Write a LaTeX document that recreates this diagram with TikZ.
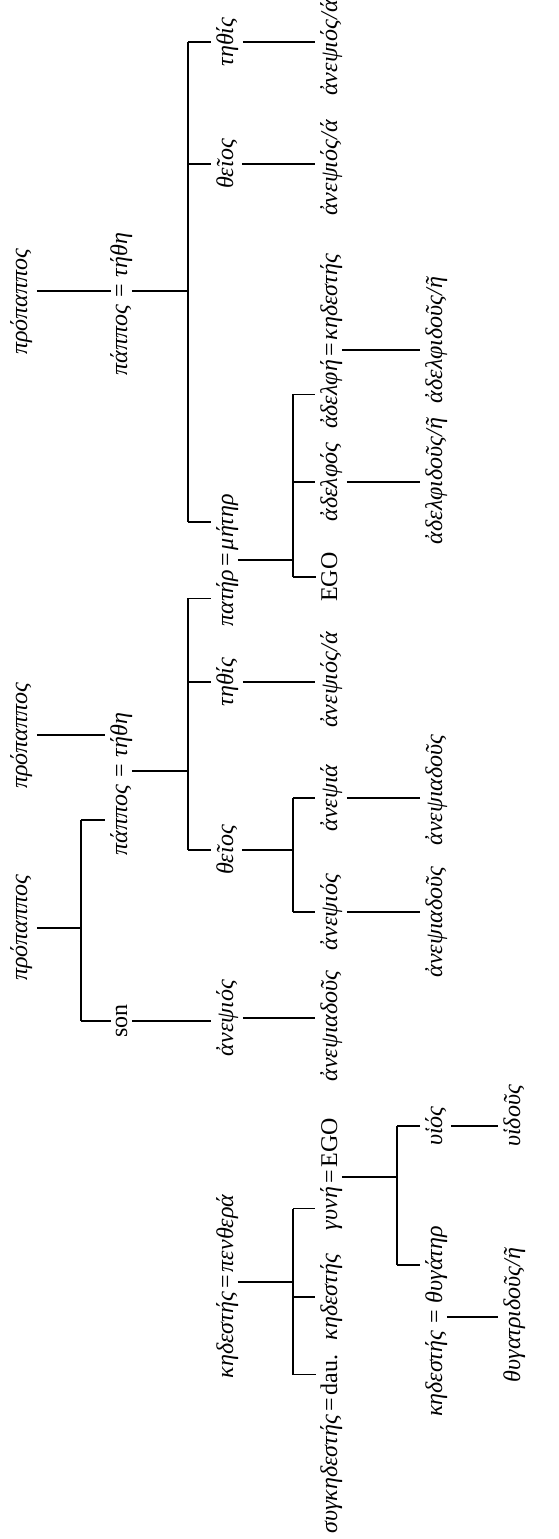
\documentclass[tikz,border=0pt]{standalone}
\usepackage{fontspec}
\setmainfont{Liberation Serif}
\usepackage{tikz}
\usetikzlibrary{positioning}

\begin{document}
\begin{tikzpicture}[
    x=0.5pt, y=-0.5pt,
    every node/.style={font=\fontsize{12}{14}\selectfont\itshape},
    kin/.style={rotate=90, anchor=base, inner xsep=0.6pt, inner ysep=2.2pt},
    roman/.style={kin, font=\fontsize{12}{14}\selectfont\upshape},
    eq/.style={
        rotate=90, anchor=base, inner xsep=#1, inner ysep=2.2pt,
        font=\fontsize{12}{14}\selectfont\upshape
    },
    eq/.default=0.6pt,
    tie/.style={line width=0.7pt, draw=black}
]
\useasboundingbox (0,0) rectangle (558,1539);

% Generation 0
\node[kin] (ppA) at (27,302) {πρόπαππος};
\node[kin] (ppB) at (27,736) {πρόπαππος};
\node[kin] (ppC) at (27,928) {πρόπαππος};

% Generation 1
\node[eq=2.5pt] (eqA) at (127,291) {=};
\node[kin, anchor=base east] (pappA) at (eqA.base west) {πάππος};
\node[kin, anchor=base west] (tetheA) at (eqA.base east) {τήθη};
\node[eq=2.5pt] (eqB) at (127,771) {=};
\node[kin, anchor=base east] (pappB) at (eqB.base west) {πάππος};
\node[kin, anchor=base west] (tetheB) at (eqB.base east) {τήθη};
\node[roman] (son) at (127,1021) {son};

% Generation 2
\node[kin] (tethisA) at (233,42) {τηθίς};
\node[kin] (theiosA) at (233,164) {θεῖος};
\node[eq] (eqM) at (233,560) {=};
\node[kin, anchor=base east] (pater) at (eqM.base west) {πατήρ};
\node[kin, anchor=base west] (meter) at (eqM.base east) {μήτηρ};
\node[kin] (tethisB) at (233,682) {τηθίς};
\node[kin] (theiosB) at (233,850) {θεῖος};
\node[kin] (anepsC) at (233,1018) {ἀνεψιός};
\node[eq] (eqP) at (233,1282) {=};
\node[kin, anchor=base east] (kedP) at (eqP.base west) {κηδεστής};
\node[kin, anchor=base west] (penth) at (eqP.base east) {πενθερά};

% Generation 3
\node[kin] (anAA) at (337,48) {ἀνεψιός/ά};
\node[kin] (anAB) at (337,168) {ἀνεψιός/ά};
\node[eq] (eqS) at (337,350) {=};
\node[kin, anchor=base east] (adelphe) at (eqS.base west) {ἀδελφή};
\node[kin, anchor=base west] (kedS) at (eqS.base east) {κηδεστής};
\node[kin] (adelphos) at (337,482) {ἀδελφός};
\node[roman] (egoA) at (337,577) {EGO};
\node[kin] (anAC) at (337,680) {ἀνεψιός/ά};
\node[kin] (anepsia) at (337,798) {ἀνεψιά};
\node[kin] (anepsB) at (337,912) {ἀνεψιός};
\node[kin] (anadC) at (337,1026) {ἀνεψιαδοῦς};
\node[eq] (eqE) at (337,1177) {=};
\node[kin, anchor=base east] (gyne) at (eqE.base west) {γυνή};
\node[roman, anchor=base west] (egoB) at (eqE.base east) {EGO};
\node[kin] (kedW) at (337,1297) {κηδεστής};
\node[eq] (eqD) at (337,1405) {=};
\node[kin, anchor=base east] (synk) at (eqD.base west) {συγκηδεστής};
\node[roman, anchor=base west] (dau) at (eqD.base east) {dau.};

% Generation 4
\node[kin] (adidA) at (442,340) {ἀδελφιδοῦς/ῆ};
\node[kin] (adidB) at (442,481) {ἀδελφιδοῦς/ῆ};
\node[kin] (anadA) at (442,790) {ἀνεψιαδοῦς};
\node[kin] (anadB) at (442,922) {ἀνεψιαδοῦς};
\node[kin] (hyios) at (442,1126) {υἱός};
\node[eq=2.5pt] (eqT) at (442,1317) {=};
\node[kin, anchor=base east] (kedT) at (eqT.base west) {κηδεστής};
\node[kin, anchor=base west] (thyg) at (eqT.base east) {θυγάτηρ};

% Generation 5
\node[kin] (hyidous) at (520,1116) {υἱδοῦς};
\node[kin] (thygid) at (520,1315) {θυγατριδοῦς/ῆ};

% Sibling bars
\coordinate (jSon) at (81,0);
\coordinate (jMat) at (188,0);
\coordinate (jPat) at (188,0);
\coordinate (jSib) at (293,0);
\coordinate (jCou) at (293,0);
\coordinate (jLaw) at (293,0);
\coordinate (jKid) at (397,0);

% Mother's side
\draw[tie] (ppA.south |- eqA) -- (eqA.north);
\draw[tie] (eqA.south) -- (eqA.south -| jMat);
\draw[tie] (tethisA.north -| jMat) -- (meter.north -| jMat);
\draw[tie] (tethisA.north -| jMat) -- (tethisA.north);
\draw[tie] (theiosA.north -| jMat) -- (theiosA.north);
\draw[tie] (meter.north -| jMat) -- (meter.north);
\draw[tie] (tethisA.south) -- (tethisA.south -| anAA.north);
\draw[tie] (theiosA.south) -- (theiosA.south -| anAB.north);

% Father's side
\draw[tie] (ppB.south |- tetheB) -- (tetheB.north);
\draw[tie] (eqB.south) -- (eqB.south -| jPat);
\draw[tie] (pater.north -| jPat) -- (theiosB.north -| jPat);
\draw[tie] (pater.north -| jPat) -- (pater.north);
\draw[tie] (tethisB.north -| jPat) -- (tethisB.north);
\draw[tie] (theiosB.north -| jPat) -- (theiosB.north);
\draw[tie] (tethisB.south) -- (tethisB.south -| anAC.north);
\draw[tie] (theiosB.south) -- (theiosB.south -| jCou);
\draw[tie] (anepsia.north -| jCou) -- (anepsB.north -| jCou);
\draw[tie] (anepsia.north -| jCou) -- (anepsia.north);
\draw[tie] (anepsB.north -| jCou) -- (anepsB.north);
\draw[tie] (anepsia.south) -- (anepsia.south -| anadA.north);
\draw[tie] (anepsB.south) -- (anepsB.south -| anadB.north);

% Grandfather's brother
\draw[tie] (ppC.south) -- (ppC.south -| jSon);
\draw[tie] (pappB.north -| jSon) -- (son.north -| jSon);
\draw[tie] (pappB.north -| jSon) -- (pappB.north);
\draw[tie] (son.north -| jSon) -- (son.north);
\draw[tie] (son.south) -- (son.south -| anepsC.north);
\draw[tie] (anepsC.south) -- (anepsC.south -| anadC.north);

% EGO and siblings
\draw[tie] (eqM.south) -- (eqM.south -| jSib);
\draw[tie] (adelphe.north -| jSib) -- (egoA.north -| jSib);
\draw[tie] (adelphe.north -| jSib) -- (adelphe.north);
\draw[tie] (adelphos.north -| jSib) -- (adelphos.north);
\draw[tie] (egoA.north -| jSib) -- (egoA.north);
\draw[tie] (eqS.south) -- (eqS.south -| adidA.north);
\draw[tie] (adelphos.south) -- (adelphos.south -| adidB.north);

% EGO's children
\draw[tie] (eqE.south) -- (eqE.south -| jKid);
\draw[tie] (hyios.north -| jKid) -- (thyg.north -| jKid);
\draw[tie] (hyios.north -| jKid) -- (hyios.north);
\draw[tie] (thyg.north -| jKid) -- (thyg.north);
\draw[tie] (hyios.south) -- (hyios.south -| hyidous.north);
\draw[tie] (eqT.south) -- (eqT.south -| thygid.north);

% Wife's family
\draw[tie] (eqP.south) -- (eqP.south -| jLaw);
\draw[tie] (gyne.north -| jLaw) -- (dau.north -| jLaw);
\draw[tie] (gyne.north -| jLaw) -- (gyne.north);
\draw[tie] (kedW.north -| jLaw) -- (kedW.north);
\draw[tie] (dau.north -| jLaw) -- (dau.north);

\end{tikzpicture}
\end{document}
